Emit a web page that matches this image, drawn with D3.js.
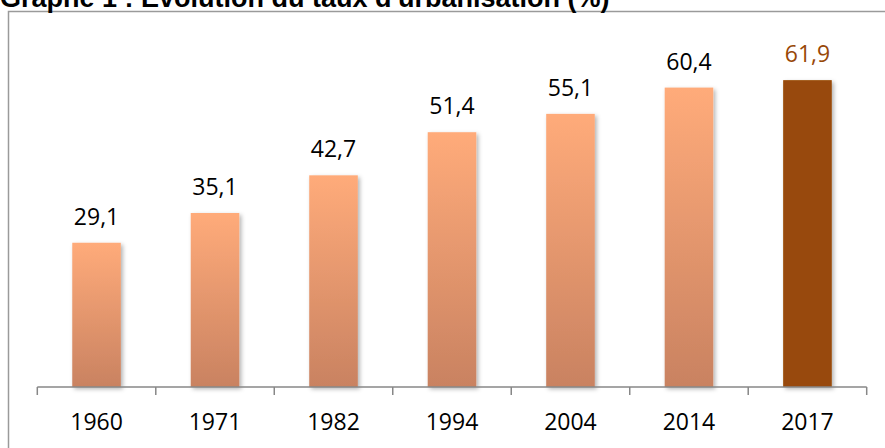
<!DOCTYPE html>
<html>
<head>
    <meta charset="utf-8" />
    <title>Graphe 1 : Evolution du taux d'urbanisation (%)</title>
    <style>
        body {
            margin: 0;
            background: #fff;
        }

        #chart text {
            font-family: 'Open Sans', sans-serif;
        }

        #chart .title {
            font-family: 'Liberation Sans', Arial, sans-serif;
            font-weight: bold;
        }
    </style>
</head>
<body>
    <div id="chart"></div>

    <script src="https://d3js.org/d3.v7.min.js"></script>
    <script>
        // data
        var years = ["1960", "1971", "1982", "1994", "2004", "2014", "2017"]
        var rates = [29.1, 35.1, 42.7, 51.4, 55.1, 60.4, 61.9]
        var highlightYear = "2017"

        var width = 885,
            height = 448

        var svg = d3.select("#chart").append("svg")
            .attr("width", width)
            .attr("height", height)

        var defs = svg.append("defs")

        var grad = defs.append("linearGradient")
            .attr("id", "barGrad")
            .attr("x1", 0).attr("y1", 0)
            .attr("x2", 0).attr("y2", 1)
        grad.append("stop").attr("offset", "0%").attr("stop-color", "#ffab7a")
        grad.append("stop").attr("offset", "100%").attr("stop-color", "#c98261")

        var shadow = defs.append("filter")
            .attr("id", "shadow")
            .attr("x", "-20%").attr("y", "-10%")
            .attr("width", "150%").attr("height", "130%")
        shadow.append("feDropShadow")
            .attr("dx", 2).attr("dy", 2)
            .attr("stdDeviation", 2)
            .attr("flood-color", "#000")
            .attr("flood-opacity", 0.3)

        // frame (right and bottom edges are outside the picture)
        svg.append("rect")
            .attr("x", 8.5).attr("y", 11.5)
            .attr("width", 900).attr("height", 500)
            .attr("fill", "none")
            .attr("stroke", "#9a9a9a")
            .attr("stroke-width", 1.5)

        // title, cut by the top edge like the original
        svg.append("text")
            .attr("class", "title")
            .attr("x", 0)
            .attr("y", 7)
            .attr("font-size", 27)
            .attr("fill", "#000")
            .text("Graphe 1 : Evolution du taux d'urbanisation (%)")

        var x = d3.scaleBand()
            .domain(years)
            .range([37.3, 866.7])
            .padding(0)

        var y = d3.scaleLinear()
            .domain([0, 70])
            .range([387, 40])

        var barW = x.bandwidth() * 0.41

        var bars = svg.append("g")
        bars.selectAll("rect")
            .data(years)
            .enter().append("rect")
            .attr("x", function(d) { return x(d) + (x.bandwidth() - barW) / 2 })
            .attr("y", function(d, i) { return y(rates[i]) })
            .attr("width", barW)
            .attr("height", function(d, i) { return y(0) - y(rates[i]) })
            .attr("fill", function(d) { return d === highlightYear ? "#984807" : "url(#barGrad)" })
            .attr("filter", "url(#shadow)")

        // value labels
        svg.append("g").selectAll("text")
            .data(years)
            .enter().append("text")
            .attr("x", function(d) { return x(d) + x.bandwidth() / 2 })
            .attr("y", function(d, i) { return y(rates[i]) - 18 })
            .attr("text-anchor", "middle")
            .attr("font-size", 23)
            .attr("fill", function(d) { return d === highlightYear ? "#984807" : "#000" })
            .text(function(d, i) { return String(rates[i]).replace(".", ",") })

        // x axis with ticks between categories
        var axis = svg.append("g")
            .attr("transform", "translate(0," + y(0) + ")")

        axis.append("line")
            .attr("x1", x.range()[0]).attr("x2", x.range()[1])
            .attr("stroke", "#878787")
            .attr("stroke-width", 1.5)

        var edges = years.map(function(d) { return x(d) }).concat([x.range()[1]])
        axis.selectAll("line.tick")
            .data(edges)
            .enter().append("line")
            .attr("class", "tick")
            .attr("x1", function(d) { return d }).attr("x2", function(d) { return d })
            .attr("y1", 0).attr("y2", 8)
            .attr("stroke", "#878787")
            .attr("stroke-width", 1.5)

        axis.selectAll("text")
            .data(years)
            .enter().append("text")
            .attr("x", function(d) { return x(d) + x.bandwidth() / 2 })
            .attr("y", 43)
            .attr("text-anchor", "middle")
            .attr("font-size", 23)
            .attr("fill", "#000")
            .text(function(d) { return d })
    </script>
</body>
</html>
